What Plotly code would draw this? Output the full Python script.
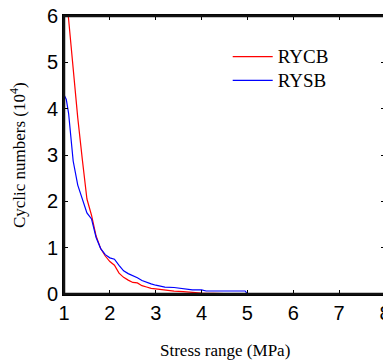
import plotly.graph_objects as go

stress = [1.0, 1.1, 1.2, 1.3, 1.4, 1.5, 1.6, 1.7, 1.8, 1.9, 2.0, 2.1, 2.2, 2.3, 2.4, 2.5,
          2.6, 2.7, 2.8, 2.9, 3.0, 3.2, 3.4, 3.6, 3.8, 4.0, 4.5, 5.0, 6.0, 7.0, 8.0]
rycb = [7.0, 5.9, 4.8, 3.8, 2.9, 2.05, 1.7, 1.25, 0.98, 0.82, 0.70, 0.62, 0.45, 0.36, 0.30, 0.25,
        0.24, 0.18, 0.15, 0.12, 0.11, 0.08, 0.06, 0.05, 0.03, 0.02, 0.01, 0.0, 0.0, 0.0, 0.0]

stress_b = [1.0, 1.05, 1.1, 1.2, 1.3, 1.4, 1.5, 1.6, 1.7, 1.8, 1.9, 2.0, 2.1, 2.2, 2.3, 2.4,
            2.5, 2.6, 2.7, 2.8, 2.9, 3.0, 3.2, 3.4, 3.6, 3.8, 4.0, 4.1, 4.5, 4.95, 5.0, 6.0, 7.0, 8.0]
rysb = [4.3, 4.2, 3.9, 2.87, 2.35, 2.05, 1.75, 1.62, 1.22, 0.98, 0.85, 0.78, 0.75, 0.62, 0.50, 0.44,
        0.40, 0.35, 0.29, 0.25, 0.22, 0.19, 0.15, 0.14, 0.11, 0.09, 0.09, 0.065, 0.065, 0.065, 0.0, 0.0, 0.0, 0.0]

x_ticks = [1, 2, 3, 4, 5, 6, 7, 8]
y_ticks = [0, 1, 2, 3, 4, 5, 6]
x_title = "Stress range (MPa)"
y_title = "Cyclic numbers (10<sup>4</sup>)"
names = ["RYCB", "RYSB"]

fig = go.Figure()
fig.add_trace(go.Scatter(x=stress, y=rycb, mode="lines",
                         name="<span style='font-size:19px'>%s</span>" % names[0],
                         line=dict(color="red", width=1.2)))
fig.add_trace(go.Scatter(x=stress_b, y=rysb, mode="lines",
                         name="<span style='font-size:19px'>%s</span>" % names[1],
                         line=dict(color="blue", width=1.2)))

axis_common = dict(showline=True, linecolor="black", linewidth=2, mirror="ticks",
                   ticks="inside", ticklen=4, tickwidth=1, tickcolor="black",
                   showgrid=False, zeroline=False, automargin=False,
                   ticklabeloverflow="allow",
                   tickfont=dict(family="Liberation Sans, Arial", size=20, color="black"))

fig.update_xaxes(range=[1, 8], tickvals=x_ticks, **axis_common)
fig.update_yaxes(range=[0, 6], tickvals=y_ticks, **axis_common)

# frame around the plotting area
fig.add_shape(type="rect", xref="paper", yref="paper", x0=0, y0=0, x1=1, y1=1,
              line=dict(color="#111111", width=2.5), layer="above")

serif = "Liberation Serif, Times New Roman"
fig.add_annotation(text=x_title, xref="paper", yref="paper", x=0.5, y=-0.205,
                   xanchor="center", yanchor="middle", showarrow=False,
                   font=dict(family=serif, size=17, color="black"))
fig.add_annotation(text=y_title, xref="paper", yref="paper", x=-0.143, y=0.5,
                   xanchor="center", yanchor="middle", showarrow=False, textangle=-90,
                   font=dict(family=serif, size=17, color="black"))

# page body has an 8px margin, so the figure is sized to fill the rest of the window
fig.update_layout(width=383, height=352, margin=dict(l=56, r=6, t=8, b=66),
                  plot_bgcolor="white", paper_bgcolor="white",
                  legend=dict(x=0.51, y=0.915, xanchor="left", yanchor="top",
                              bgcolor="rgba(0,0,0,0)",
                              font=dict(family=serif, size=16, color="black"),
                              tracegroupgap=0, itemwidth=40))

fig.write_html("out.html")
